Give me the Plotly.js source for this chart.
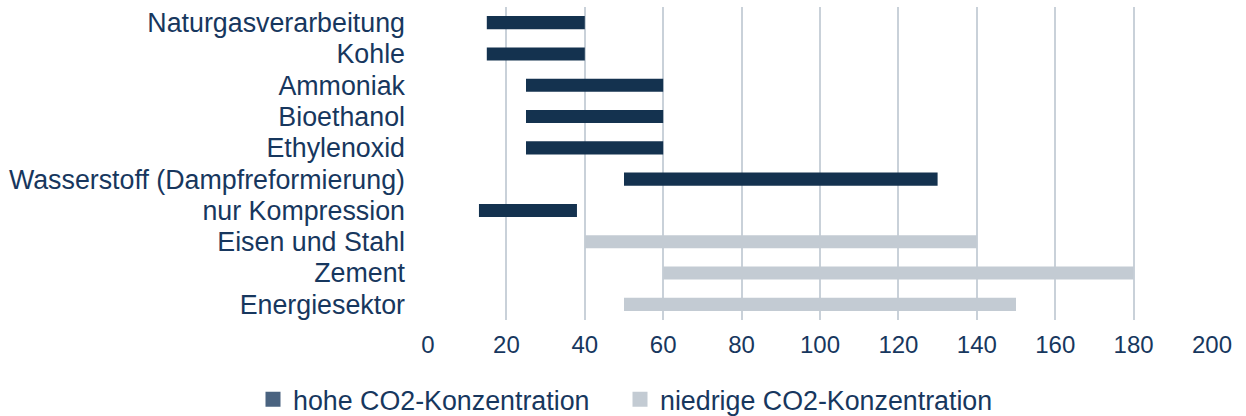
<!DOCTYPE html>
<html>
<head>
<meta charset="utf-8">
<script src="https://cdn.plot.ly/plotly-3.0.1.min.js"></script>
<style>html,body{margin:0;padding:0;background:#fff;}#chart{width:1246px;height:416px;}</style>
</head>
<body>
<div id="chart"></div>
<script>
var categories = ["Naturgasverarbeitung","Kohle","Ammoniak","Bioethanol","Ethylenoxid","Wasserstoff (Dampfreformierung)","nur Kompression","Eisen und Stahl","Zement","Energiesektor"];
var highStart = [15,15,25,25,25,50,13,null,null,null];
var highEnd   = [40,40,60,60,60,130,38,null,null,null];
var lowStart  = [null,null,null,null,null,null,null,40,60,50];
var lowEnd    = [null,null,null,null,null,null,null,140,180,150];
var xTicks = [0,20,40,60,80,100,120,140,160,180,200];
var seriesNames = ["hohe CO2-Konzentration","niedrige CO2-Konzentration"];
var seriesColors = ["#14324F","#C3CBD3"];

function widths(s,e){return s.map(function(v,i){return v===null?null:e[i]-v;});}

var textColor = "#17375E";
var traces = [
  {type:"bar", orientation:"h", name:seriesNames[0], y:categories, x:widths(highStart,highEnd), base:highStart,
   marker:{color:seriesColors[0]}, width:0.42, hoverinfo:"skip", showlegend:false},
  {type:"bar", orientation:"h", name:seriesNames[1], y:categories, x:widths(lowStart,lowEnd), base:lowStart,
   marker:{color:seriesColors[1]}, width:0.42, hoverinfo:"skip", showlegend:false},
  {type:"scatter", mode:"markers", name:seriesNames[0], x:[null], y:[categories[0]],
   marker:{symbol:"square", size:15, color:"#4A6380"}, showlegend:true, legend:"legend"},
  {type:"scatter", mode:"markers", name:seriesNames[1], x:[null], y:[categories[0]],
   marker:{symbol:"square", size:15, color:seriesColors[1]}, showlegend:true, legend:"legend2"}
];
var legendCommon = {orientation:"h", xanchor:"left", xref:"container", yanchor:"middle", yref:"container",
                    font:{size:26.8, color:textColor}, itemwidth:30, bgcolor:"rgba(0,0,0,0)"};
var layout = {
  width:1246, height:416,
  margin:{l:428, r:34, t:7, b:96, autoexpand:false},
  paper_bgcolor:"#fff", plot_bgcolor:"#fff",
  font:{family:"Liberation Sans, Arial, sans-serif", size:26, color:textColor},
  barmode:"overlay",
  showlegend:true,
  legend:Object.assign({}, legendCommon, {x:253/1246, y:0.04}),
  legend2:Object.assign({}, legendCommon, {x:620/1246, y:0.04}),
  xaxis:{range:[0,200], tickmode:"array", tickvals:xTicks, ticktext:xTicks.map(String), showgrid:true, gridcolor:"#C9D1D9", gridwidth:2,
         zeroline:false, showline:false, ticks:"", ticklabelstandoff:8, tickfont:{size:24, color:textColor}, fixedrange:true, automargin:false},
  yaxis:{type:"category", categoryorder:"array", categoryarray:categories, tickmode:"array", tickvals:categories, ticktext:categories,
         autorange:false, range:[9.5,-0.5], showgrid:false, zeroline:false, showline:false,
         ticks:"", ticklabelstandoff:22, tickfont:{size:26.8, color:textColor}, fixedrange:true, automargin:false}
};
Plotly.newPlot("chart", traces, layout, {displayModeBar:false, staticPlot:true});
</script>
</body>
</html>
